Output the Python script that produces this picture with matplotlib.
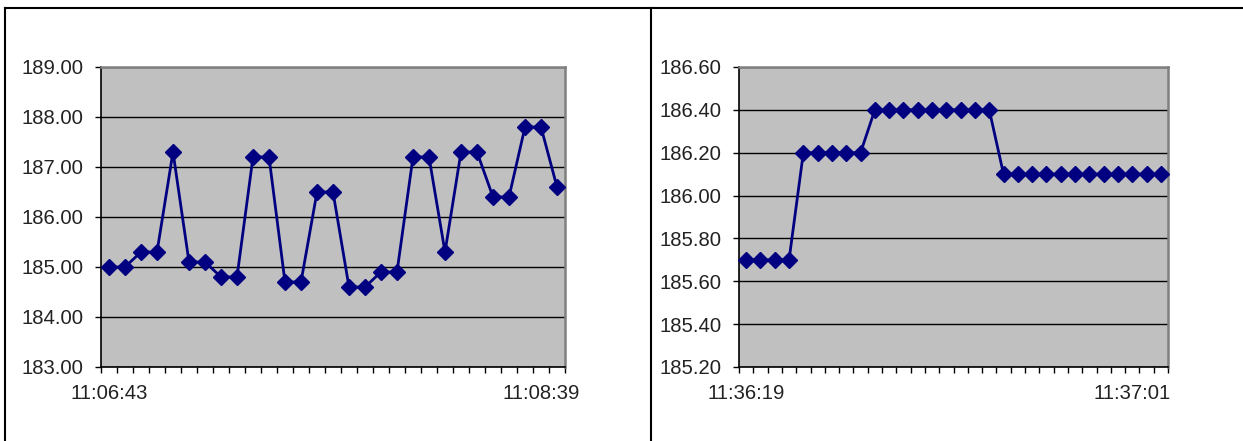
import matplotlib
matplotlib.use('Agg')
import matplotlib.pyplot as plt
from matplotlib.lines import Line2D
import numpy as np

plt.rcParams['font.family'] = ['Liberation Sans', 'DejaVu Sans']

# left chart: 11:06:43 .. 11:08:39
left_values = [185.0, 185.0, 185.3, 185.3, 187.3, 185.1, 185.1, 184.8, 184.8, 187.2,
               187.2, 184.7, 184.7, 186.5, 186.5, 184.6, 184.6, 184.9, 184.9, 187.2,
               187.2, 185.3, 187.3, 187.3, 186.4, 186.4, 187.8, 187.8, 186.6]
left_labels = ['11:06:43', '11:08:39']
left_ylim = (183.0, 189.0)
left_yticks = [183.0, 184.0, 185.0, 186.0, 187.0, 188.0, 189.0]

# right chart: 11:36:19 .. 11:37:01
right_values = [185.7] * 4 + [186.2] * 5 + [186.4] * 9 + [186.1] * 12
right_labels = ['11:36:19', '11:37:01']
right_ylim = (185.2, 186.6)
right_yticks = [185.2, 185.4, 185.6, 185.8, 186.0, 186.2, 186.4, 186.6]

label_every = 27  # excel shows a time label every 27 categories

W, H = 1243, 441
fig = plt.figure(figsize=(W / 100, H / 100), dpi=100)


def px_axes(x0, y0, x1, y1):
    # pixel box (top-left origin) -> figure fraction
    return fig.add_axes([x0 / W, 1 - y1 / H, (x1 - x0) / W, (y1 - y0) / H])


def draw(ax, values, labels, ylim, yticks):
    n = len(values)
    x = np.arange(n)
    ax.set_facecolor('#C0C0C0')
    ax.plot(x, values, color='#000080', lw=2.0, marker='D', ms=8,
            mfc='#000080', mec='#000080', mew=1, zorder=3, clip_on=False)
    ax.set_xlim(-0.5, n - 0.5)
    ax.set_ylim(*ylim)
    ax.set_yticks(yticks)
    ax.set_yticklabels(['%.2f' % v for v in yticks])
    ax.yaxis.grid(True, color='black', lw=1.0)
    ax.set_axisbelow(True)
    # category boundaries get the tick marks, labels sit on the categories
    ax.set_xticks(np.arange(n + 1) - 0.5)
    ax.set_xticklabels([])
    ax.set_xticks([0, label_every], minor=True)
    ax.set_xticklabels(labels, minor=True)
    ax.tick_params(axis='x', which='major', direction='out', length=4.5, width=1, color='black')
    ax.tick_params(axis='x', which='minor', length=0, pad=12, labelsize=14.6, labelcolor='#222222')
    ax.tick_params(axis='y', direction='out', length=4.5, width=1, pad=8,
                   labelsize=14.6, labelcolor='#222222')
    for s in ['left', 'bottom']:
        ax.spines[s].set_color('black')
        ax.spines[s].set_linewidth(1.2)
    for s in ['top', 'right']:
        ax.spines[s].set_color('#808080')
        ax.spines[s].set_linewidth(1.8)


ax1 = px_axes(101, 67, 565, 367)
draw(ax1, left_values, left_labels, left_ylim, left_yticks)

ax2 = px_axes(739, 67, 1168, 367)
draw(ax2, right_values, right_labels, right_ylim, right_yticks)

# outer frame lines of the sheet
fig.add_artist(Line2D([5 / W, 1], [1 - 8 / H, 1 - 8 / H], color='black', lw=1.5))
fig.add_artist(Line2D([5 / W, 5 / W], [0, 1 - 8 / H], color='black', lw=1.5))
fig.add_artist(Line2D([651 / W, 651 / W], [0, 1 - 8 / H], color='black', lw=1.5))

fig.savefig('out.png', dpi=100)
